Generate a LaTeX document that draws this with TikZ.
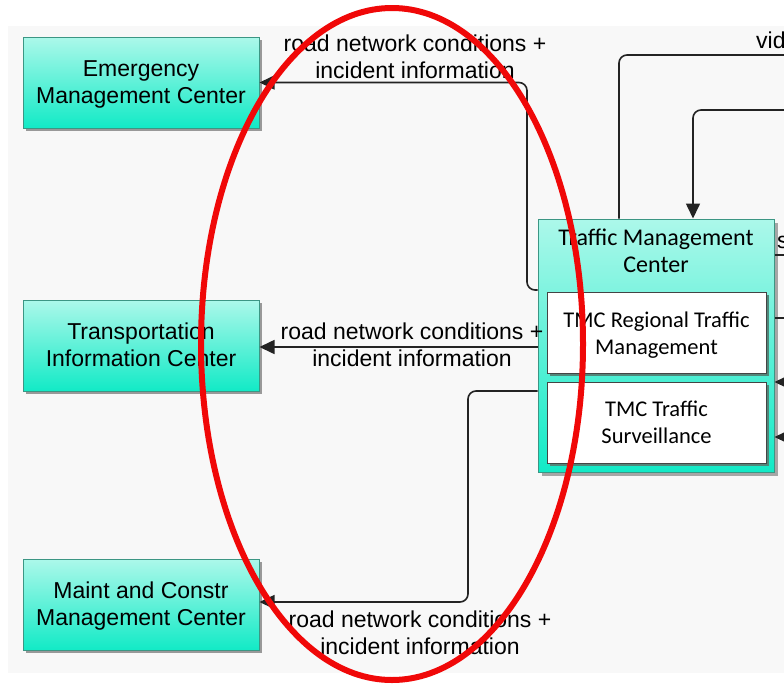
\documentclass[tikz,border=0pt]{standalone}
\usepackage{fontspec}
\setmainfont{Liberation Sans}
\newfontfamily\calib{Carlito}
\usetikzlibrary{arrows.meta,shadows}

\definecolor{paper}{RGB}{248,248,248}
\definecolor{aquatop}{RGB}{172,248,234}
\definecolor{aquabot}{RGB}{18,234,198}
\definecolor{aquaedge}{RGB}{60,150,132}
\definecolor{wire}{RGB}{35,35,35}
\definecolor{subshade}{RGB}{80,135,122}
\definecolor{ring}{RGB}{240,8,8}

% struts that give every two-line box the same text height and depth
\newcommand\uppstrut{\rule{0pt}{19pt}}
\newcommand\lowstrut{\rule[-5pt]{0pt}{5pt}}

\tikzset{
  center/.style={draw=aquaedge, line width=1pt, top color=aquatop, bottom color=aquabot,
    minimum width=236pt, minimum height=91pt, align=center, inner sep=0pt,
    font=\fontsize{23}{27}\selectfont,
    drop shadow={shadow xshift=3pt, shadow yshift=-3pt, fill=gray!80, opacity=1}},
  tmcbox/.style={draw=aquaedge, line width=1pt, top color=aquatop, bottom color=aquabot,
    minimum width=236pt, minimum height=253pt, inner sep=0pt,
    drop shadow={shadow xshift=4pt, shadow yshift=-4pt, fill=gray!70, opacity=1}},
  subbox/.style={draw=wire!85, line width=1pt, fill=white, minimum width=219pt,
    minimum height=81pt, align=center, inner sep=0pt,
    font=\calib\fontsize{22.5}{27}\selectfont,
    drop shadow={shadow xshift=3pt, shadow yshift=-3pt, fill=subshade, opacity=1}},
  flow/.style={draw=wire, line width=1.6pt, rounded corners=8pt,
    -{Triangle[length=15pt, width=14pt]}},
  plain/.style={draw=wire, line width=1.6pt, rounded corners=8pt},
  flowtext/.style={align=center, inner sep=0pt, font=\fontsize{23}{27}\selectfont}
}

\begin{document}
\begin{tikzpicture}[x=1pt, y=-1pt]
  \useasboundingbox (0,0) rectangle (784,683);
  \clip (0,0) rectangle (784,683);
  % canvas
  \fill[white] (0,0) rectangle (784,683);
  \fill[paper] (8,26) rectangle (784,673);

  % external centers
  \node[center] (emc)  at (141,82.5)  {\uppstrut Emergency\\Management Center\lowstrut};
  \node[center] (tic)  at (141,345.5) {\uppstrut Transportation\\Information Center\lowstrut};
  \node[center] (mcmc) at (141,604.5) {\uppstrut Maint and Constr\\Management Center\lowstrut};

  % traffic management center with its two parts
  \node[tmcbox] (tmc) at (656,345.5) {};
  \node[align=center, inner sep=0pt, font=\calib\fontsize{24}{27}\selectfont]
    (tmctitle) at (656,251) {Traffic Management\\Center};
  \node[subbox] (sub1) at (656.5,332.5) {\rule{0pt}{21pt}TMC Regional Traffic\\Management};
  \node[subbox] (sub2) at (656.5,422.5) {TMC Traffic\\Surveillance};

  % free ends at the right border
  \coordinate (outA) at (784,55);
  \coordinate (inB)  at (784,110);
  \coordinate (outC) at (784,255);
  \coordinate (outD) at (784,318);
  \coordinate (inE)  at (784,382);
  \coordinate (inF)  at (784,437);

  % flows to the left
  \draw[flow] ([yshift=55.5pt]tmc.west) -- (527,290) -- (527,82.5) -- (emc.east);
  \draw[flow] ([yshift=-1.5pt]tmc.west) -- ([yshift=-1.5pt]tic.east);
  \draw[flow] ([yshift=-45.5pt]tmc.west) -- (468,391) -- (468,602) -- ([yshift=2.5pt]mcmc.east);

  \node[flowtext] (lab1) at (415,56.5)  {road network conditions +\\incident information};
  \node[flowtext] (lab2) at (412,344.5) {road network conditions +\\incident information};
  \node[flowtext] (lab3) at (420,633)   {road network conditions +\\incident information};

  % flows at the top and on the right
  \draw[plain] ([xshift=-37pt]tmc.north) -- (619,55) -- (outA);
  \draw[flow] (inB) -- (693,110) -- ([xshift=37pt]tmc.north);
  \draw[plain] ([yshift=90.5pt]tmc.east) -- (outC);
  \draw[plain] ([yshift=27.5pt]tmc.east) -- (outD);
  \draw[flow] (inE) -- ([yshift=-36.5pt]tmc.east);
  \draw[flow] (inF) -- ([yshift=-91.5pt]tmc.east);

  \node[flowtext, anchor=west] (labA) at (756,40) {video};
  \node[flowtext, anchor=west] (labC) at (777,242) {s};

  % highlight ring
  \draw[ring, line width=6pt] (392,344) ellipse [x radius=191, y radius=336];
\end{tikzpicture}
\end{document}
